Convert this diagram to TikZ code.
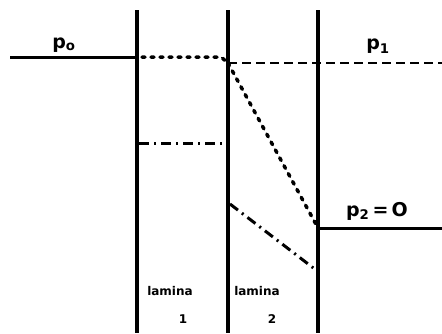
\documentclass[tikz,border=0pt]{standalone}
\usepackage{fontspec}
\setmainfont{DejaVu Sans}
\begin{document}
\begin{tikzpicture}[x=1pt,y=-1pt,
  wall/.style={line width=4pt},
  solidline/.style={line width=3pt},
  dotline/.style={line width=3.5pt,dash pattern=on 3pt off 6pt,line cap=round},
  dashline/.style={line width=1.6pt,dash pattern=on 9pt off 5pt},
  dashdot/.style={line width=3pt,dash pattern=on 10pt off 5pt on 2pt off 5pt},
  lbl/.style={font=\bfseries\fontsize{19}{19}\selectfont,inner sep=0pt},
  lam/.style={font=\bfseries\fontsize{12}{12}\selectfont,inner sep=0pt}]
\useasboundingbox (0,0) rectangle (442,333);
% walls
\coordinate (w1t) at (137,10); \coordinate (w1b) at (137,333);
\coordinate (w2t) at (228,10); \coordinate (w2b) at (228,333);
\coordinate (w3t) at (318,10); \coordinate (w3b) at (318,333);
\draw[wall] (w1t) -- (w1b);
\draw[wall] (w2t) -- (w2b);
\draw[wall] (w3t) -- (w3b);
% p0
\coordinate (p0l) at (10,57); \coordinate (p0r) at (137,57);
\draw[solidline] (p0l) -- (p0r);
\node[lbl] (p0) at (64,45) {p\textsubscript{o}};
% dotted top in lamina 1
\coordinate (d1) at (142,57); \coordinate (d2) at (221,57); \coordinate (k) at (228,63);
\draw[dotline] (d1) -- (d2) -- (k);
% p1 dashed
\coordinate (p1r) at (442,63);
\draw[dashline] (k) -- (p1r);
\node[lbl] (p1) at (378,46) {p\textsubscript{1}};
% dotted diagonal lamina 2
\coordinate (k2) at (318,228);
\draw[dotline] (k) -- (k2);
% p2
\coordinate (p2r) at (442,228);
\draw[solidline] (k2) -- (p2r);
\node[lbl] (p2) at (377,211) {p\textsubscript{2}\,=\,O};
% dash-dot lines
\coordinate (a1) at (139,143); \coordinate (a2) at (226,143);
\draw[dashdot] (a1) -- (a2);
\coordinate (b1) at (230,204); \coordinate (b2) at (316,270);
\draw[dashdot] (b1) -- (b2);
% lamina labels
\node[lam] (l1) at (170,291) {lamina};
\node[lam] (n1) at (183,319) {1};
\node[lam] (l2) at (257,291) {lamina};
\node[lam] (n2) at (272,319) {2};
\end{tikzpicture}
\end{document}
